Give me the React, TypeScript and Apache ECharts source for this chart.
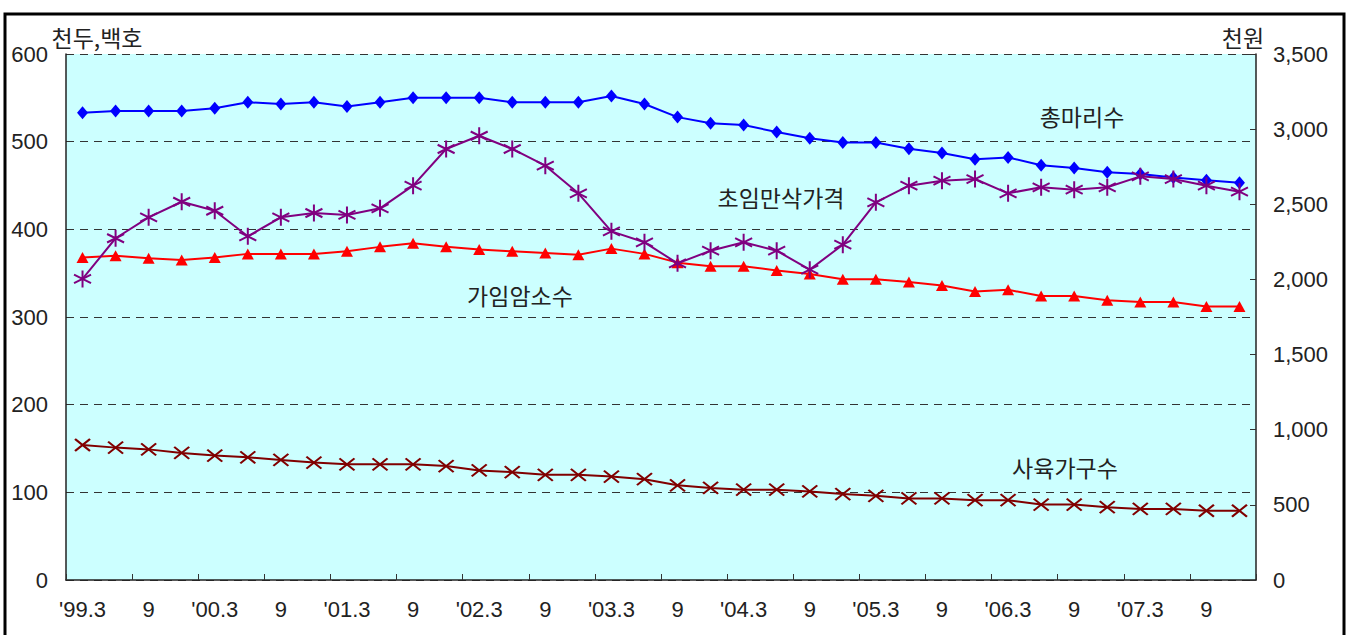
import React, { useEffect, useRef } from "react";
import * as echarts from "echarts";

const categories = [
  "'99.3", "6", "9", "12",
  "'00.3", "6", "9", "12",
  "'01.3", "6", "9", "12",
  "'02.3", "6", "9", "12",
  "'03.3", "6", "9", "12",
  "'04.3", "6", "9", "12",
  "'05.3", "6", "9", "12",
  "'06.3", "6", "9", "12",
  "'07.3", "6", "9", "12",
];

// 총마리수 (천두)
const totalHeads = [533, 535, 535, 535, 538, 545, 543, 545, 540, 545, 550, 550,
  550, 545, 545, 545, 552, 543, 528, 521, 519, 511, 504, 499, 499,
  492, 487, 480, 482, 473, 470, 465, 463, 459, 456, 453];

// 가임암소수 (천두)
const fertileCows = [368, 370, 367, 365, 368, 372, 372, 372, 375, 380, 384, 380,
  377, 375, 373, 371, 378, 372, 362, 358, 358, 353, 349, 343, 343,
  340, 336, 329, 331, 324, 324, 319, 317, 317, 312, 312];

// 사육가구수 (백호)
const farmHouseholds = [154, 151, 149, 145, 142, 140, 137, 134, 132, 132, 132, 130,
  125, 123, 120, 120, 118, 115, 108, 105, 103, 103, 101, 98, 96,
  93, 93, 91, 91, 86, 86, 83, 81, 81, 79, 79];

// 초임만삭가격 (천원)
const pregnantPrice = [2003, 2274, 2413, 2517, 2457, 2287, 2413, 2442, 2429, 2473, 2624, 2868,
  2956, 2868, 2757, 2573, 2320, 2247, 2107, 2191, 2247, 2191, 2065, 2231, 2513,
  2624, 2657, 2668, 2573, 2613, 2597, 2613, 2686, 2668, 2624, 2584];

const NUM_FONT = "'Liberation Sans', Arial, sans-serif";
const KR_FONT = "'Noto Sans CJK KR', sans-serif";

export default function App() {
  const ref = useRef<HTMLDivElement>(null);

  useEffect(() => {
    if (!ref.current) return;
    const chart = echarts.init(ref.current, undefined, { renderer: "svg" });

    const krText = (text: string, x: number, y: number) => ({
      type: "text",
      x,
      y,
      style: {
        text,
        fill: "#222",
        font: `23px ${KR_FONT}`,
        align: "center",
        verticalAlign: "middle",
      },
      z: 100,
    });

    chart.setOption({
      animation: false,
      backgroundColor: "#ffffff",
      grid: {
        left: 66,
        top: 54,
        width: 1190,
        height: 526,
        show: true,
        backgroundColor: "#ccffff",
        borderWidth: 0,
        containLabel: false,
      },
      xAxis: {
        type: "category",
        data: categories,
        boundaryGap: true,
        axisLine: { show: true, lineStyle: { color: "#222", width: 1.5 } },
        axisTick: { show: true, inside: true, length: 6, lineStyle: { color: "#333" } },
        axisLabel: {
          interval: 1,
          margin: 18,
          color: "#222",
          fontSize: 22,
          fontFamily: NUM_FONT,
        },
        splitLine: { show: false },
      },
      yAxis: [
        {
          type: "value",
          min: 0,
          max: 600,
          interval: 100,
          position: "left",
          axisLine: { show: true, lineStyle: { color: "#222", width: 1.5 } },
          axisTick: { show: false },
          axisLabel: {
            margin: 18,
            color: "#222",
            fontSize: 22,
            fontFamily: NUM_FONT,
          },
          splitLine: {
            show: true,
            lineStyle: { color: "#333", type: [8, 6], width: 1 },
          },
        },
        {
          type: "value",
          min: 0,
          max: 3500,
          interval: 500,
          position: "right",
          axisLine: { show: true, lineStyle: { color: "#222", width: 1.5 } },
          axisTick: { show: true, inside: true, length: 6, lineStyle: { color: "#333" } },
          axisLabel: {
            margin: 17,
            color: "#222",
            fontSize: 22,
            fontFamily: NUM_FONT,
            formatter: (v: number) => v.toLocaleString("en-US"),
          },
          splitLine: { show: false },
        },
      ],
      series: [
        {
          name: "총마리수",
          type: "line",
          yAxisIndex: 0,
          data: totalHeads,
          symbol: "diamond",
          symbolSize: [11, 13],
          lineStyle: { color: "#0000ff", width: 2 },
          itemStyle: { color: "#0000ff" },
          z: 3,
        },
        {
          name: "가임암소수",
          type: "line",
          yAxisIndex: 0,
          data: fertileCows,
          symbol: "triangle",
          symbolSize: [12, 11],
          lineStyle: { color: "#ff0000", width: 2 },
          itemStyle: { color: "#ff0000" },
          z: 3,
        },
        {
          name: "사육가구수",
          type: "line",
          yAxisIndex: 0,
          data: farmHouseholds,
          symbol: "path://M0,0 L14,12 M0,12 L14,0",
          symbolSize: [15, 12],
          lineStyle: { color: "#800000", width: 2 },
          itemStyle: { color: "#800000", borderColor: "#800000", borderWidth: 2 },
          z: 3,
        },
        {
          name: "초임만삭가격",
          type: "line",
          yAxisIndex: 1,
          data: pregnantPrice,
          symbol: "path://M7,0 L7,14 M0,3.5 L14,10.5 M0,10.5 L14,3.5",
          symbolSize: [17, 17],
          lineStyle: { color: "#800080", width: 2 },
          itemStyle: { color: "#800080", borderColor: "#800080", borderWidth: 2 },
          z: 4,
        },
      ],
      graphic: [
        {
          type: "rect",
          shape: { x: 5, y: 14, width: 1339, height: 660 },
          style: { fill: "none", stroke: "#000", lineWidth: 3 },
          z: 100,
          silent: true,
        },
        krText("천두,백호", 97, 37),
        krText("천원", 1243, 37),
        krText("총마리수", 1082, 116),
        krText("초임만삭가격", 781, 197),
        krText("가임암소수", 520, 295),
        krText("사육가구수", 1065, 467),
      ],
    });

    return () => chart.dispose();
  }, []);

  return (
    <div
      ref={ref}
      style={{ position: "absolute", left: 0, top: 0, width: 1354, height: 635 }}
    />
  );
}
